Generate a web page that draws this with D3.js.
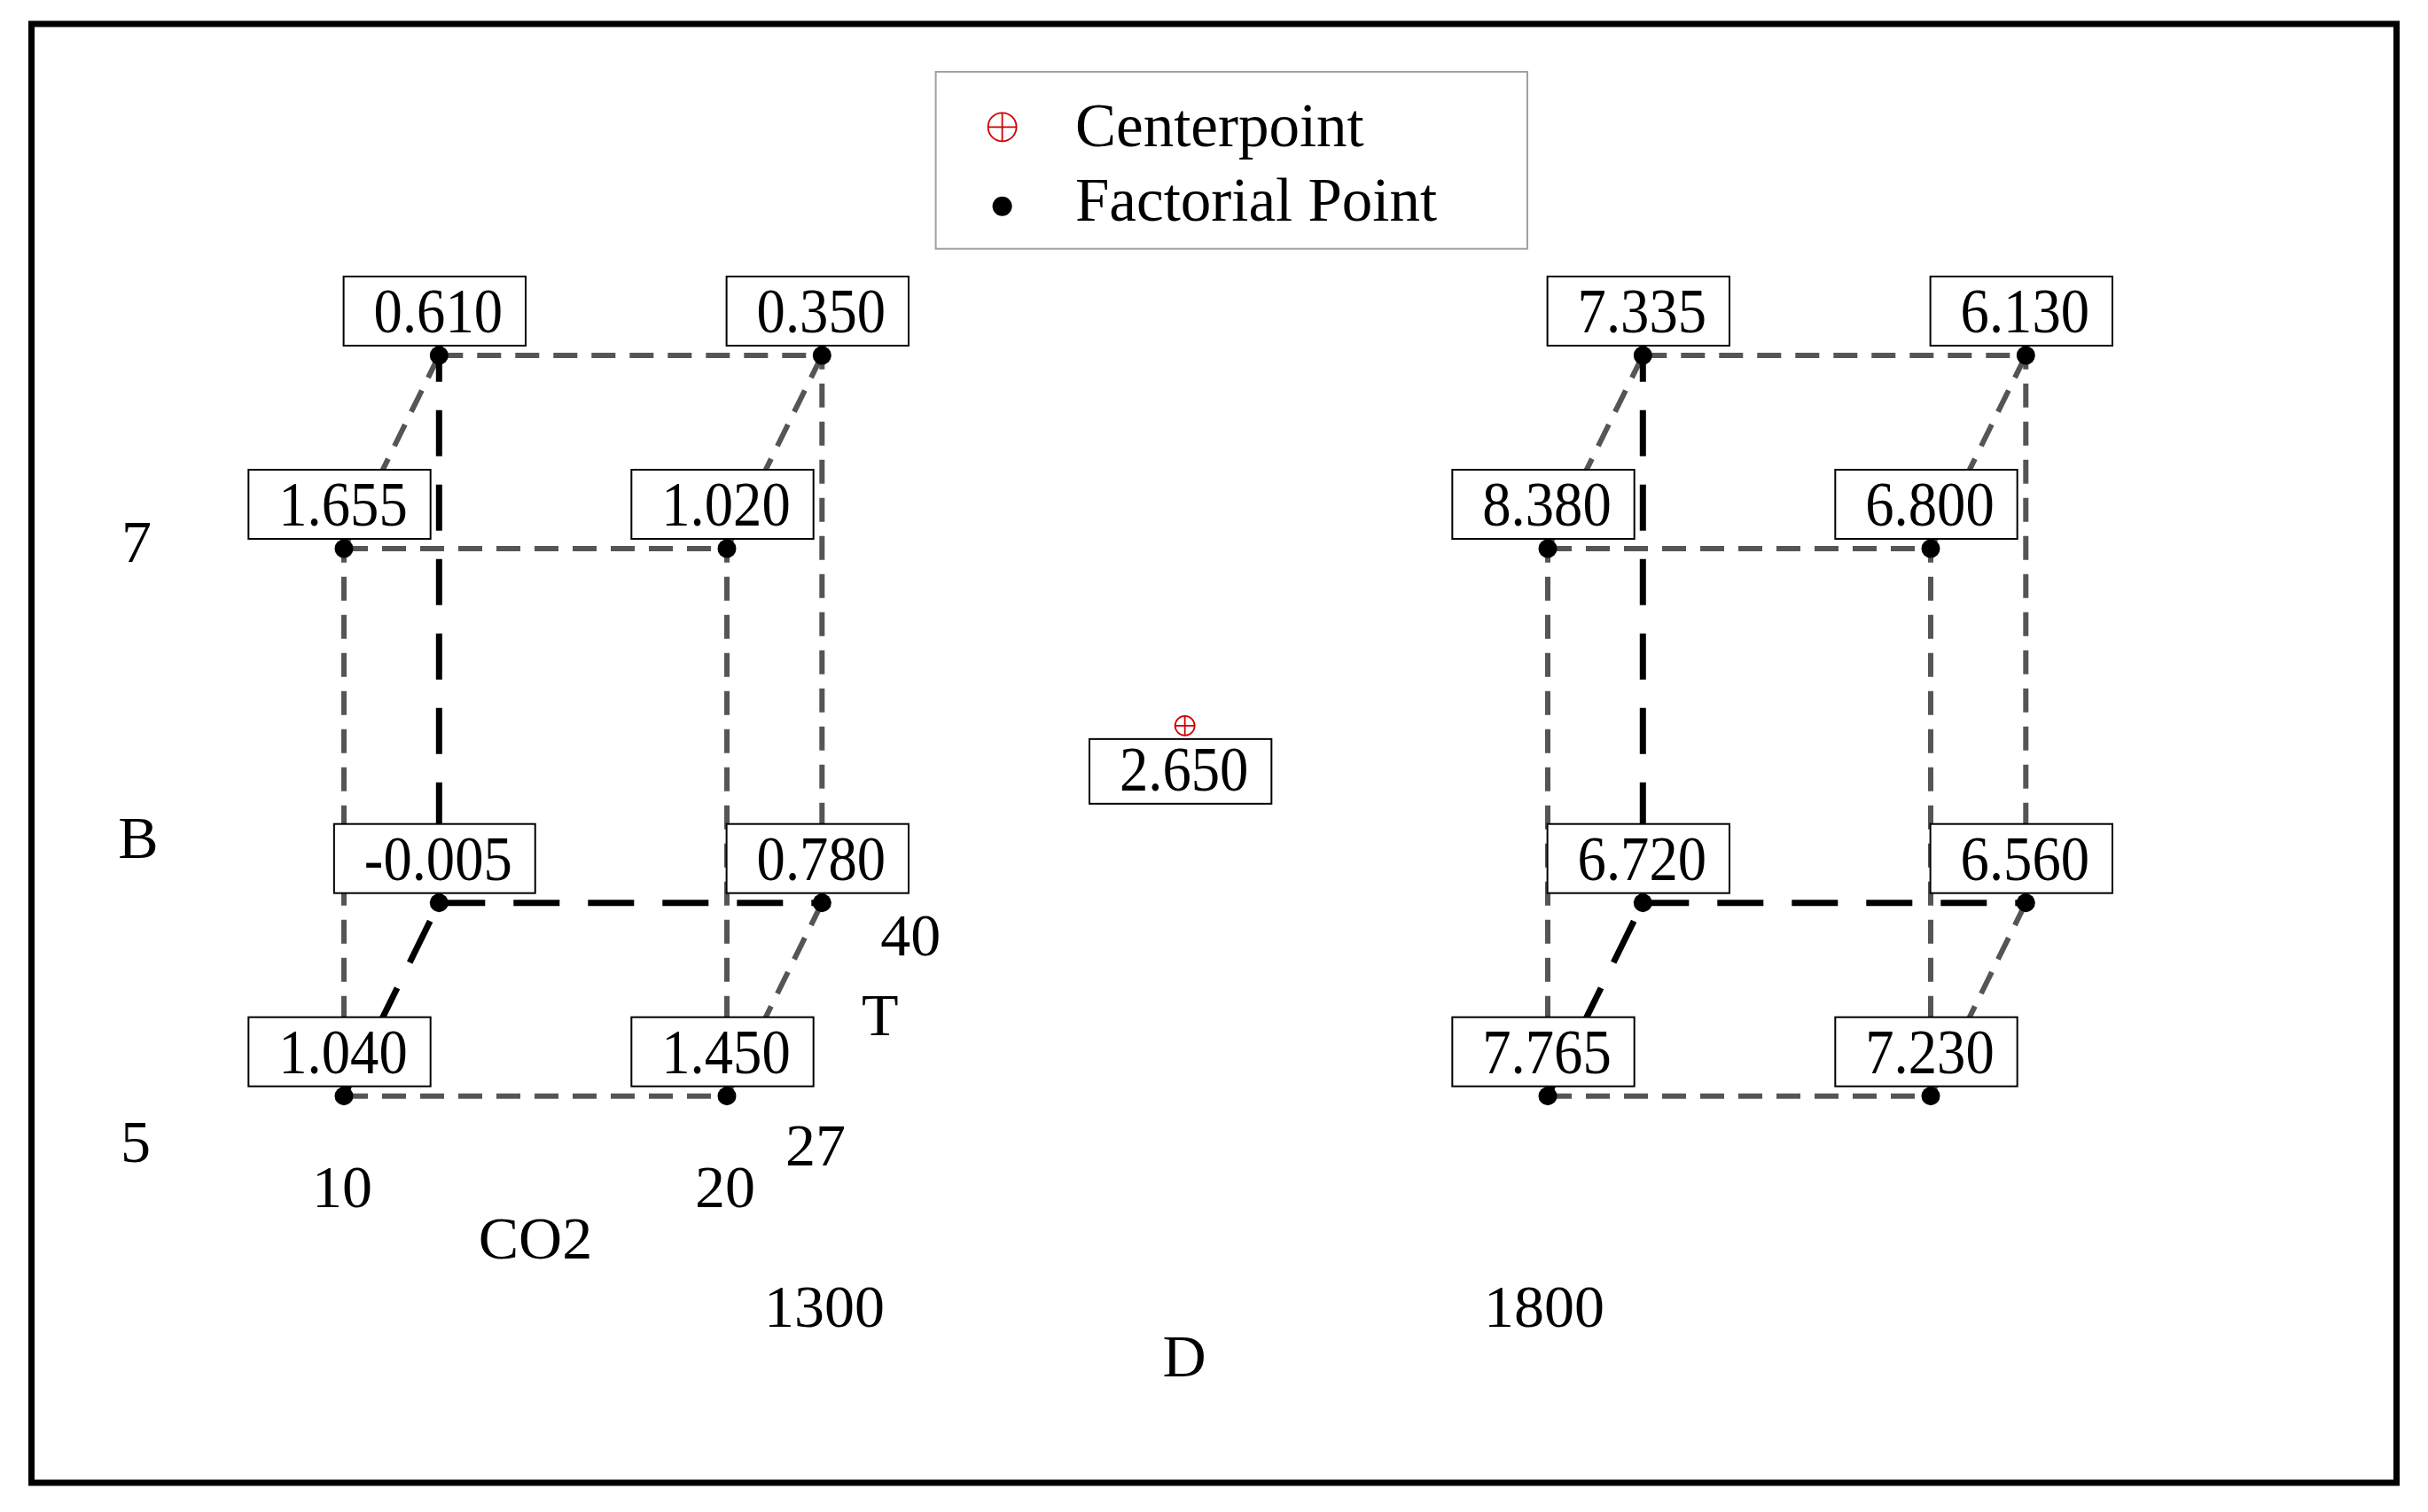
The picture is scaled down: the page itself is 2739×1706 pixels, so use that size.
<!DOCTYPE html>
<html>
<head>
<meta charset="utf-8">
<script src="https://cdn.jsdelivr.net/npm/d3@7"></script>
<style>
  html, body { margin: 0; padding: 0; background: #fff; }
  text { font-family: "Liberation Serif", "Times New Roman", serif; fill: #000; }
</style>
</head>
<body>
<svg id="chart"></svg>
<script>
// factor levels
const co2Levels = [10, 20];
const tLevels = [27, 40];
const bLevels = [5, 7];
const dLevels = [1300, 1800];

// factorial runs (standard order) and their fitted means
const runCO2 = [10, 20, 10, 20, 10, 20, 10, 20, 10, 20, 10, 20, 10, 20, 10, 20];
const runT   = [27, 27, 40, 40, 27, 27, 40, 40, 27, 27, 40, 40, 27, 27, 40, 40];
const runB   = [5, 5, 5, 5, 7, 7, 7, 7, 5, 5, 5, 5, 7, 7, 7, 7];
const runD   = [1300, 1300, 1300, 1300, 1300, 1300, 1300, 1300, 1800, 1800, 1800, 1800, 1800, 1800, 1800, 1800];
const runMean = [1.040, 1.450, -0.005, 0.780, 1.655, 1.020, 0.610, 0.350,
                 7.765, 7.230, 6.720, 6.560, 8.380, 6.800, 7.335, 6.130];

// center point
const centerRun = { co2: 15, t: 33.5, b: 6, d: 1550, mean: 2.650 };

const legendLabels = ["Centerpoint", "Factorial Point"];

const width = 2739;
const height = 1706;

const svg = d3.select("#chart").attr("width", width).attr("height", height);
svg.append("rect").attr("width", width).attr("height", height).attr("fill", "#fff");

// scales
const xD = d3.scaleLinear().domain(d3.extent(dLevels)).range([388, 1746]);
const xC = d3.scaleLinear().domain(d3.extent(co2Levels)).range([0, 432]);
const depthX = d3.scaleLinear().domain(d3.extent(tLevels)).range([0, 107.3]);
const depthY = d3.scaleLinear().domain(d3.extent(tLevels)).range([0, -218]);
const yB = d3.scaleLinear().domain(d3.extent(bLevels)).range([1236.7, 619]);

const px = (p) => xD(p.d) + xC(p.co2) + depthX(p.t);
const py = (p) => yB(p.b) + depthY(p.t);

const runs = runMean.map((m, i) => ({
  co2: runCO2[i], t: runT[i], b: runB[i], d: runD[i], mean: m
}));

// cube edges: pairs in same D block differing in exactly one factor
const edges = [];
runs.forEach((a, i) => {
  runs.forEach((b, j) => {
    if (j <= i || a.d !== b.d) return;
    const diff = (a.co2 !== b.co2) + (a.t !== b.t) + (a.b !== b.b);
    if (diff !== 1) return;
    const hidden = [a, b].some((p) => p.co2 === co2Levels[0] && p.t === tLevels[1] && p.b === bLevels[0]);
    edges.push({ a, b, hidden });
  });
});

// outer frame
svg.append("rect")
  .attr("x", 35.5).attr("y", 27)
  .attr("width", 2703.5 - 35.5).attr("height", 1673 - 27)
  .attr("fill", "none").attr("stroke", "#000").attr("stroke-width", 7);

const lines = svg.append("g");
lines.selectAll("line.front")
  .data(edges.filter((e) => !e.hidden))
  .enter().append("line")
  .attr("x1", (e) => px(e.a)).attr("y1", (e) => py(e.a))
  .attr("x2", (e) => px(e.b)).attr("y2", (e) => py(e.b))
  .attr("stroke", "#555").attr("stroke-width", 6)
  .attr("stroke-dasharray", "27,16");
lines.selectAll("line.back")
  .data(edges.filter((e) => e.hidden))
  .enter().append("line")
  .attr("x1", (e) => px(e.a)).attr("y1", (e) => py(e.a))
  .attr("x2", (e) => px(e.b)).attr("y2", (e) => py(e.b))
  .attr("stroke", "#000").attr("stroke-width", 7)
  .attr("stroke-dasharray", "52,32");

// value labels in boxes (plain hyphen for negatives)
const fmt = d3.formatLocale({ decimal: ".", thousands: ",", grouping: [3], currency: ["", ""], minus: "-" }).format(".3f");
const squeeze = 0.91;

function valueBox(g, cx, top, h, baseOff, value) {
  const t = g.append("text")
    .attr("text-anchor", "middle")
    .attr("font-size", 71)
    .attr("transform", `translate(${cx},${top + baseOff}) scale(${squeeze},1)`)
    .text(fmt(value));
  const w = t.node().getComputedTextLength() * squeeze;
  g.insert("rect", "text")
    .attr("x", cx - w / 2 - 34).attr("y", top)
    .attr("width", w + 60).attr("height", h)
    .attr("fill", "#fff").attr("stroke", "#000").attr("stroke-width", 2);
}

const labels = svg.append("g");
runs.forEach((p) => {
  valueBox(labels.append("g"), px(p) - 1, py(p) - 89, 78, 63, p.mean);
});
valueBox(labels.append("g"), px(centerRun) - 1, py(centerRun) + 15, 73, 58, centerRun.mean);

// factorial points
svg.append("g").selectAll("circle")
  .data(runs)
  .enter().append("circle")
  .attr("cx", px).attr("cy", py).attr("r", 10.5)
  .attr("fill", "#000");

// center point symbol
function centerSymbol(g, cx, cy, r) {
  g.append("circle").attr("cx", cx).attr("cy", cy).attr("r", r)
    .attr("fill", "none").attr("stroke", "#d00000").attr("stroke-width", 1.8);
  g.append("line").attr("x1", cx - r).attr("x2", cx + r).attr("y1", cy).attr("y2", cy)
    .attr("stroke", "#d00000").attr("stroke-width", 1.8);
  g.append("line").attr("x1", cx).attr("x2", cx).attr("y1", cy - r).attr("y2", cy + r)
    .attr("stroke", "#d00000").attr("stroke-width", 1.8);
}
centerSymbol(svg.append("g"), px(centerRun), py(centerRun), 11);

// axis labels
const axis = svg.append("g").attr("font-size", 68).attr("text-anchor", "middle");
const x0 = xD(dLevels[0]);

// B (vertical)
axis.append("text").attr("x", x0 - 234).attr("y", yB(bLevels[1]) + 15).text(bLevels[1]);
axis.append("text").attr("x", x0 - 232).attr("y", (yB(bLevels[0]) + yB(bLevels[1])) / 2 + 40).text("B");
axis.append("text").attr("x", x0 - 235).attr("y", yB(bLevels[0]) + 74).text(bLevels[0]);

// CO2 (horizontal)
co2Levels.forEach((c) => {
  axis.append("text").attr("x", x0 + xC(c) - 2).attr("y", yB(bLevels[0]) + 125).text(c);
});
axis.append("text").attr("x", x0 + xC(d3.mean(co2Levels))).attr("y", yB(bLevels[0]) + 183).text("CO2");

// T (depth)
const xRight = x0 + xC(co2Levels[1]);
axis.append("text").attr("x", xRight + depthX(tLevels[0]) + 100)
  .attr("y", yB(bLevels[0]) + depthY(tLevels[0]) + 78).text(tLevels[0]);
axis.append("text").attr("x", xRight + depthX(tLevels[1]) + 100)
  .attr("y", yB(bLevels[0]) + depthY(tLevels[1]) + 59).text(tLevels[1]);
axis.append("text").attr("x", xRight + depthX(d3.mean(tLevels)) + 119)
  .attr("y", yB(bLevels[0]) + depthY(d3.mean(tLevels)) + 40).text("T");

// D (between cubes)
const dLabelX = d3.scaleLinear().domain(d3.extent(dLevels)).range([930, 1742]);
dLevels.forEach((d) => {
  axis.append("text").attr("x", dLabelX(d)).attr("y", 1497).text(d);
});
axis.append("text").attr("x", dLabelX(d3.mean(dLevels))).attr("y", 1553).text("D");

// legend
const legend = svg.append("g");
legend.append("rect")
  .attr("x", 1055.6).attr("y", 81).attr("width", 1723 - 1055.6).attr("height", 280.7 - 81)
  .attr("fill", "#fff").attr("stroke", "#a0a0a0").attr("stroke-width", 2);
centerSymbol(legend, 1130.6, 143.3, 16);
legend.append("circle").attr("cx", 1130.6).attr("cy", 232.7).attr("r", 11).attr("fill", "#000");
legend.selectAll("text.lab")
  .data(legendLabels)
  .enter().append("text")
  .attr("x", 1213)
  .attr("y", (d, i) => [165, 248.5][i])
  .attr("font-size", 69)
  .text((d) => d);
</script>
</body>
</html>
